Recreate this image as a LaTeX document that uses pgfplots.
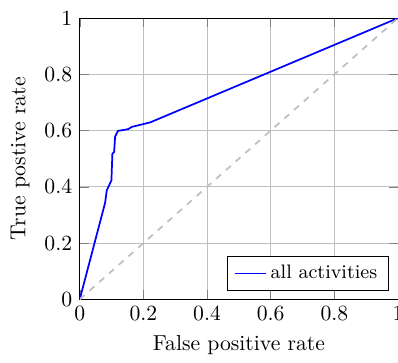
\documentclass[border=0pt]{standalone}
\usepackage{pgfplots}
\pgfplotsset{compat=1.18}
\begin{document}
\begin{tikzpicture}[trim axis right]
\begin{axis}[
  scale only axis,
  width=146.9pt, height=129.8pt,
  xmin=0, xmax=1, ymin=0, ymax=1,
  xtick={0,0.2,0.4,0.6,0.8,1},
  ytick={0,0.2,0.4,0.6,0.8,1},
  grid=major,
  xlabel={False positive rate},
  ylabel={True postive rate},
  legend pos=south east,
  legend cell align=left,
  legend style={font=\small},
  legend image code/.code={\draw[#1] (0cm,0cm) -- (0.5cm,0cm);},
]
\addplot[blue, thick] coordinates {
(0,0) (0.0796,0.343) (0.085,0.388) (0.0995,0.423) (0.1025,0.518) (0.108,0.524)
(0.111,0.578) (0.120,0.599) (0.152,0.605) (0.163,0.613) (0.221,0.629) (1,1)
};
\addlegendentry{all activities}
\addplot[gray!50, dashed, thick, forget plot] coordinates {(0,0) (1,1)};
\end{axis}
\path (current bounding box.west) ++(-1.6pt,0) coordinate (extraW);
\path (current bounding box.north) ++(0,1.8pt) coordinate (extraN);
\path (extraW) circle (0pt) (extraN) circle (0pt);
\end{tikzpicture}
\end{document}
